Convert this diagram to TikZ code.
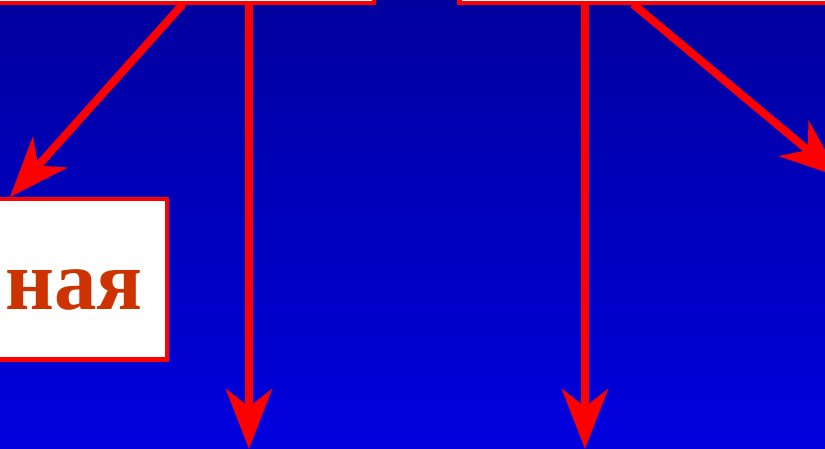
\documentclass[tikz,border=0pt]{standalone}
\usepackage{fontspec}
\setmainfont{Liberation Serif}
\usetikzlibrary{arrows.meta}
\definecolor{bgtop}{RGB}{0,0,158}
\definecolor{bgbot}{RGB}{0,0,222}
\definecolor{txtred}{RGB}{204,51,0}
\tikzset{
  box/.style={draw=red, fill=white, line width=4.5pt, inner sep=0pt},
  redarrow/.style={draw=red, line width=8pt, -{Stealth[length=60pt,width=46pt,inset=18pt]}},
}
\begin{document}
\begin{tikzpicture}[x=1pt,y=-1pt]
\useasboundingbox (0,0) rectangle (825,449);
\shade[top color=bgtop, bottom color=bgbot] (0,0) rectangle (825,449);
% top boxes (cut off)
\node[box, minimum width=476pt, minimum height=80pt, anchor=south east] (topL) at (376,5.5) {};
\node[box, minimum width=500pt, minimum height=80pt, anchor=south west] (topR) at (457,5.5) {};
% lower left box
\node[box, minimum width=260pt, minimum height=160pt, anchor=north east] (low) at (169,197) {};
\node[anchor=base west, inner sep=0pt, text=txtred, font=\fontsize{85}{85}\selectfont\bfseries] (lowtxt) at (5,309) {ная};
% arrow endpoints
\coordinate (s1) at (183,4);
\coordinate (s2) at (249,5);
\coordinate (s3) at (585,5);
\coordinate (s4) at (633,4);
\coordinate (e2) at (249,449);
\coordinate (e3) at (585,449);
\coordinate (e4) at (840,177);
\draw[redarrow] (s1) -- (low.north east -| 10,0);
\draw[redarrow] (s2) -- (e2);
\draw[redarrow] (s3) -- (e3);
\draw[redarrow] (s4) -- (e4);
\end{tikzpicture}
\end{document}
